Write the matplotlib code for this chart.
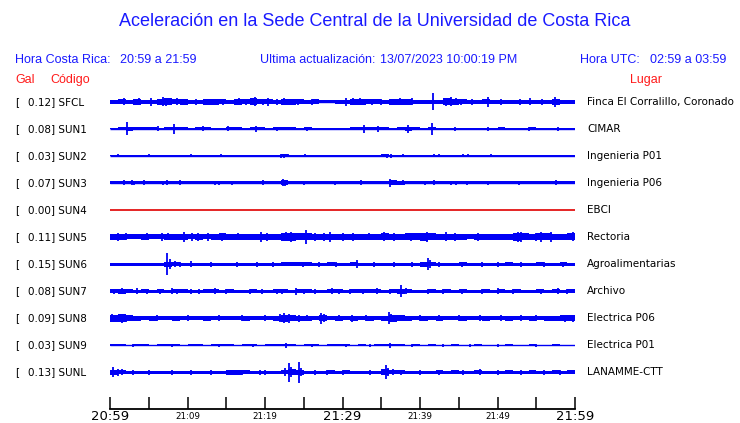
import matplotlib
matplotlib.use("Agg")
import matplotlib.pyplot as plt
import numpy as np

# ---------------- data ----------------
title = "Aceleración en la Sede Central de la Universidad de Costa Rica"
hora_cr = "20:59 a 21:59"
ultima = "13/07/2023 10:00:19 PM"
hora_utc = "02:59 a 03:59"

codes = ["SFCL", "SUN1", "SUN2", "SUN3", "SUN4", "SUN5", "SUN6", "SUN7", "SUN8", "SUN9", "SUNL"]
gal = [0.12, 0.08, 0.03, 0.07, 0.00, 0.11, 0.15, 0.08, 0.09, 0.03, 0.13]
places = ["Finca El Corralillo, Coronado", "CIMAR", "Ingenieria P01", "Ingenieria P06", "EBCI",
          "Rectoria", "Agroalimentarias", "Archivo", "Electrica P06", "Electrica P01", "LANAMME-CTT"]

tick_minutes = [0, 5, 10, 15, 20, 25, 30, 35, 40, 45, 50, 55, 60]
tick_labels = ["20:59", "", "21:09", "", "21:19", "", "21:29", "", "21:39", "", "21:49", "", "21:59"]
big_labels = ["20:59", "21:29", "21:59"]

# envelope half-height per minute (screen px units)
base_SFCL = [2, 2.5, 2, 3, 2, 2, 3, 3.5, 2.5, 3, 2, 2, 3, 3, 2.5, 2, 3, 2.5, 3.5, 2.5,
             2.5, 2, 3, 3, 2.5, 2, 2.5, 1.5, 1.5, 2, 2, 3, 3, 2.5, 2.5, 2, 3, 3, 3, 2,
             2, 2, 2, 3.5, 3, 2.5, 2, 2, 2.5, 2, 2, 2, 2, 2, 2, 2, 2, 3, 2, 2]
base_SUN1 = [0.5, 1.5, 2, 1.5, 1.5, 1.5, 1, 1.5, 1.5, 1.5, 1, 1.5, 1.5, 0.5, 1, 1.5, 1.5, 1, 1.5, 1.5,
             1, 1.5, 1.5, 1.5, 1, 1.5, 1, 1, 0.5, 1, 1, 1.5, 1.5, 1.5, 1.5, 1.5, 1, 1.5, 2, 1.5,
             1, 1.5, 1, 1, 1, 0.5, 1, 0.5, 1, 1, 1.5, 0.5, 1, 1, 1.5, 1, 0.5, 1, 0.5, 0.5]
base_SUN2 = [0.5] * 22 + [1.5] + [0.5] * 12 + [1.5, 1] + [0.5] * 23
base_SUN3 = [1.5] * 22 + [2.5] + [1.5] * 13 + [2.5, 2] + [1.5] * 22
base_SUN4 = [0] * 60
base_SUN5 = [3, 3, 2.5, 2.5, 3, 2.5, 2.5, 3, 3, 3, 2.5, 3, 2.5, 3, 3.5, 3, 3, 3, 3, 3,
             3, 3, 4, 4, 3.5, 3.5, 3, 3, 3, 3, 3, 3, 3, 3, 3, 3.5, 3, 3, 3.5, 3.5,
             4, 3.5, 3, 3, 3, 3, 2.5, 3, 3, 3, 3, 3, 4, 3.5, 3, 3.5, 3.5, 3, 3, 3.5]
base_SUN6 = [1.5, 1.5, 1.5, 1.5, 1.5, 1.5, 1.5, 2.5, 2, 1.5, 1.5, 1.5, 1.5, 1.5, 1.5, 1.5, 1.5, 1.5, 1.5, 1.5,
             1.5, 1.5, 2, 2, 2, 2, 1.5, 1.5, 2, 1.5, 1.5, 2, 1.5, 1.5, 1.5, 1.5, 1.5, 1.5, 1.5, 1.5,
             2.5, 2, 1.5, 1.5, 1.5, 2, 1.5, 1.5, 1.5, 1.5, 1.5, 2, 1.5, 1.5, 1.5, 2, 1.5, 1.5, 2, 1.5]
base_SUN7 = [2, 2.5, 2, 1.5, 2, 1.5, 2, 1.5, 2, 2, 1.5, 1.5, 2, 2, 1.5, 2, 1.5, 1.5, 2, 1.5,
             1.5, 2, 2, 1.5, 2, 2, 1.5, 1.5, 2, 2, 1.5, 2, 2, 2, 2, 1.5, 2, 2.5, 2, 1.5,
             1.5, 2, 1.5, 2, 1.5, 2, 1.5, 1.5, 2, 1.5, 2, 1.5, 2, 1.5, 1.5, 2, 1.5, 2, 1.5, 2]
base_SUN8 = [3.5, 4, 3, 2.5, 2, 2.5, 2, 2, 2.5, 2, 2, 2, 2.5, 2, 2, 2, 2, 2.5, 2, 2,
             2, 2.5, 3.5, 3, 2.5, 2.5, 2, 3, 2, 2.5, 2, 2.5, 2, 2.5, 2, 2.5, 3.5, 3, 2.5, 2,
             2.5, 2, 2.5, 2, 2, 2.5, 2, 2, 2.5, 2, 2, 2.5, 2, 2, 2.5, 2, 2.5, 2.5, 3, 3]
base_SUN9 = [1, 1, 0.5, 1, 1, 0.5, 1, 1, 1, 0.5, 1, 1, 0.5, 1, 1, 1, 0.5, 1, 1, 0.5,
             1, 1, 1, 1, 0.5, 1, 1, 0.5, 1, 1, 1, 0.5, 1, 0.5, 1, 1, 1, 1, 0.5, 1,
             0.5, 1, 0.5, 0.5, 1, 0.5, 0.5, 1, 0.5, 0.5, 0.5, 1, 0.5, 0.5, 1, 0.5, 0.5, 1, 0.5, 0.5]
base_SUNL = [2.5, 2, 1.5, 1.5, 1.5, 1.5, 1.5, 1.5, 1.5, 1.5, 1.5, 1.5, 1.5, 1.5, 1.5, 2.5, 2.5, 2, 1.5, 1.5,
             1.5, 1.5, 2, 3, 2.5, 1.5, 1.5, 1.5, 2, 1.5, 2, 1.5, 1.5, 1.5, 1.5, 3, 2, 2, 1.5, 1.5,
             1.5, 1.5, 2, 1.5, 2, 1.5, 1.5, 2, 1.5, 1.5, 1.5, 2, 1.5, 1.5, 2, 1.5, 1.5, 2, 1.5, 2]

# spikes: (minute, half-height in screen px)
spk_SFCL = [(1.8, 3.5), (3.8, 3.5), (5.3, 4), (6.9, 4.5), (7.2, 4), (8.7, 3.5), (9.4, 3), (11.1, 3),
            (12.8, 3), (13.6, 3), (14.6, 3), (16.7, 3.5), (17.5, 3), (18.7, 4.5), (19.7, 3), (20.4, 4),
            (21.6, 3), (22.5, 3.5), (23.8, 3), (24.2, 3), (26.1, 3), (30.4, 4), (31.3, 3.5), (32.2, 3.5),
            (33.8, 3), (35.0, 3), (36.5, 3), (37.4, 3.5), (38.3, 3), (39.0, 3.5), (41.7, 8.5), (43.4, 4),
            (44.0, 4.5), (44.6, 3.5), (45.3, 3), (46.7, 3), (48.8, 5), (50.4, 3), (52.9, 3), (54.2, 3.5),
            (55.7, 3), (57.4, 5)]
spk_SUN1 = [(2.2, 6.5), (6.2, 2.5), (8.3, 5), (12.0, 2.5), (15.2, 2.5), (18.8, 3), (21.5, 2),
            (25.4, 2), (32.8, 4), (34.6, 3), (38.5, 4), (41.5, 6), (44.5, 2), (48.8, 2), (54.0, 2), (57.8, 2)]
spk_SUN2 = [(1.0, 1.5), (3.0, 1), (4.2, 1), (5.0, 1.5), (5.6, 1), (6.2, 1), (7.5, 1), (9.0, 1), (10.4, 1.5),
            (12.0, 1), (13.7, 1), (14.3, 1.5), (16.0, 1), (17.2, 1), (18.5, 1), (20.0, 1), (22.0, 2),
            (22.5, 2), (23.0, 1.5), (24.6, 1), (25.2, 1.5), (27.0, 1), (30.8, 1), (33.0, 1), (35.2, 1),
            (35.8, 2), (36.3, 2), (37.8, 1.5), (38.4, 1), (41.3, 1), (41.8, 1.5), (42.5, 1.5), (44.0, 1),
            (45.0, 1), (45.5, 1.5), (46.2, 1.5), (47.8, 1), (49.2, 1.5), (52.0, 1), (57.0, 1), (59.0, 1)]
spk_SUN3 = [(1.8, 2.5), (2.8, 2.5), (3.1, 2), (4.4, 2.5), (6.9, 2), (7.3, 2.5), (9.0, 2.5), (13.5, 2),
            (14.1, 2), (15.7, 2), (19.8, 2.5), (22.3, 3.5), (22.6, 3), (25.0, 2), (29.0, 2), (32.4, 2.5),
            (36.1, 4), (37.8, 2.5), (40.7, 2), (41.8, 2.5), (44.0, 2), (44.6, 2), (46.1, 2), (48.8, 2),
            (52.8, 2), (57.6, 2.5)]
spk_SUN4 = []
spk_SUN5 = [(1.0, 4), (2.0, 3.5), (4.8, 3.5), (6.7, 4), (7.5, 3.5), (9.6, 5), (10.6, 4), (11.3, 4),
            (12.7, 4), (14.5, 4), (16.5, 3.5), (19.5, 5), (20.2, 4), (22.7, 4.5), (23.3, 5), (25.3, 7),
            (26.5, 4), (27.6, 4), (28.4, 5), (30.0, 4), (31.4, 4), (33.4, 3.5), (35.3, 4.5), (36.6, 4),
            (38.8, 4), (40.9, 5), (43.3, 4.5), (44.5, 4), (47.5, 4), (52.7, 5), (53.0, 5), (55.0, 4),
            (55.6, 5), (56.9, 5), (59.8, 4.5)]
spk_SUN6 = [(7.4, 11), (7.8, 5), (8.4, 3), (9.0, 2.5), (10.5, 3), (13.0, 2.5), (16.4, 2.5), (19.0, 2.5),
            (21.0, 2.5), (24.9, 2.5), (27.0, 2.5), (29.2, 2.5), (31.9, 4), (34.0, 2.5), (36.6, 2.5),
            (39.0, 2.5), (41.0, 6), (41.3, 4), (42.5, 2.5), (45.4, 2.5), (48.0, 2.5), (50.0, 2.5),
            (53.0, 2.5), (56.0, 2.5), (58.5, 2.5)]
spk_SUN7 = [(0.5, 2.5), (1.5, 3), (3.5, 3), (4.8, 2.5), (6.5, 2.5), (8.0, 3), (8.7, 2.5), (10.5, 2.5),
            (11.5, 2.5), (13.5, 3), (15.0, 2.5), (18.0, 2.5), (19.6, 2.5), (21.5, 2.5), (22.2, 2.5),
            (24.0, 3.5), (25.0, 2.5), (26.4, 2.5), (28.7, 3), (29.6, 2.5), (31.0, 2.5), (32.6, 2.5),
            (34.4, 3), (36.1, 2.5), (37.6, 6), (38.2, 3), (41.0, 2.5), (43.0, 2.5), (45.4, 2.5),
            (48.0, 2.5), (50.0, 3), (52.0, 2.5), (55.6, 2.5), (57.8, 3), (59.0, 2.5)]
spk_SUN8 = [(0.3, 4), (1.5, 4.5), (2.1, 3.5), (6.0, 3), (10.0, 3), (14.0, 3), (17.0, 3), (20.0, 3),
            (21.9, 4), (22.5, 5), (23.1, 4.5), (24.4, 3.5), (25.4, 3), (27.2, 5.5), (27.6, 4), (29.5, 3),
            (31.2, 3.5), (33.0, 3), (36.0, 6), (36.3, 4), (37.5, 3), (40.0, 3), (42.5, 3), (45.0, 3),
            (47.8, 3), (50.5, 3), (53.0, 3), (55.0, 3), (58.7, 3.5), (59.8, 3.5)]
spk_SUN9 = [(3.0, 1.5), (8.0, 1.5), (14.0, 1.5), (18.5, 1.5), (22.7, 2.5), (26.0, 1.5), (30.5, 1.5),
            (33.5, 1.5), (36.1, 2.5), (39.0, 1.5), (43.0, 1.5), (46.5, 1.5), (50.0, 1.5), (55.0, 1.5)]
spk_SUNL = [(0.4, 5), (1.0, 3.5), (1.5, 3), (3.0, 2.5), (5.0, 2.5), (8.0, 2.5), (10.5, 2.5), (13.0, 2.5),
            (15.5, 2.5), (17.0, 2.5), (19.3, 2.5), (20.0, 2.5), (22.6, 4), (23.1, 9.5), (23.4, 5),
            (24.4, 10.5), (24.7, 4), (26.5, 2.5), (28.0, 2.5), (30.0, 2.5), (33.5, 2.5), (35.6, 7),
            (35.9, 4), (36.5, 3), (37.5, 2.5), (40.0, 2.5), (42.5, 2.5), (45.5, 2.5), (47.7, 3),
            (50.0, 2.5), (53.0, 2.5), (56.0, 2.5), (58.0, 2.5)]

bases = [base_SFCL, base_SUN1, base_SUN2, base_SUN3, base_SUN4, base_SUN5,
         base_SUN6, base_SUN7, base_SUN8, base_SUN9, base_SUNL]
spikes = [spk_SFCL, spk_SUN1, spk_SUN2, spk_SUN3, spk_SUN4, spk_SUN5,
          spk_SUN6, spk_SUN7, spk_SUN8, spk_SUN9, spk_SUNL]

# ---------------- drawing ----------------
W, H = 740, 423
fig = plt.figure(figsize=(W / 100, H / 100), dpi=100)
fig.patch.set_facecolor("white")

BLUE = "#1a1aff"
TRACE = "#0000f5"
RED = "#ff1a1a"
HFONT = ["Liberation Sans", "DejaVu Sans"]
SFONT = ["DejaVu Sans"]


def ftext(x, y, s, **kw):
    fig.text(x / W, 1 - y / H, s, **kw)


ftext(375, 22, title, ha="center", va="center", fontsize=13, color=BLUE, family=HFONT)
ftext(15, 60, "Hora Costa Rica:", ha="left", va="center", fontsize=9, color=BLUE, family=HFONT)
ftext(120, 60, hora_cr, ha="left", va="center", fontsize=9, color=BLUE, family=HFONT)
ftext(260, 60, "Ultima actualización:", ha="left", va="center", fontsize=9, color=BLUE, family=HFONT)
ftext(380, 60, ultima, ha="left", va="center", fontsize=9, color=BLUE, family=HFONT)
ftext(580, 60, "Hora UTC:", ha="left", va="center", fontsize=9, color=BLUE, family=HFONT)
ftext(650, 60, hora_utc, ha="left", va="center", fontsize=9, color=BLUE, family=HFONT)
ftext(15, 80, "Gal", ha="left", va="center", fontsize=9, color=RED, family=HFONT)
ftext(50, 80, "Código", ha="left", va="center", fontsize=9, color=RED, family=HFONT)
ftext(630, 80, "Lugar", ha="left", va="center", fontsize=9, color=RED, family=HFONT)

top_px, bot_px, left_px, right_px = 88, 409, 110, 575
ax = fig.add_axes([left_px / W, 1 - bot_px / H, (right_px - left_px) / W, (bot_px - top_px) / H])
ax.set_xlim(0, 60)
ax.set_ylim(bot_px - top_px, 0)
for s in ["top", "left", "right"]:
    ax.spines[s].set_visible(False)
ax.spines["bottom"].set_linewidth(1.3)
ax.set_yticks([])
ax.set_xticks(tick_minutes)
ax.set_xticklabels(tick_labels)
ax.tick_params(axis="x", direction="in", length=9, width=1.1, pad=1, colors="black")
for lab in ax.get_xticklabels():
    if lab.get_text() in big_labels:
        lab.set_fontsize(9.5)
    else:
        lab.set_fontsize(6.3)
        lab.set_y(-0.004)
    lab.set_family("DejaVu Sans")

edges = np.arange(61)
row0, dy = 102 - top_px, 27
for i, code in enumerate(codes):
    yc = row0 + dy * i
    b = np.array(bases[i], dtype=float)
    if code == "SUN4":
        ax.hlines(yc, 0, 60, color="#e00000", lw=1.2)
    else:
        ax.stairs(yc + b, edges, baseline=yc - b, fill=True, color=TRACE, lw=0)
        ax.hlines(yc, 0, 60, color=TRACE, lw=1.0)
        if spikes[i]:
            t = np.array([p[0] for p in spikes[i]])
            a = np.array([p[1] for p in spikes[i]])
            ax.vlines(t, yc - a, yc + a, color=TRACE, lw=1.3)
    ypix = 102 + dy * i
    ftext(15, ypix, "[", ha="left", va="center", fontsize=7.5, color="black", family=SFONT)
    ftext(28, ypix, f"{gal[i]:.2f}] {code}", ha="left", va="center", fontsize=7.5, color="black", family=SFONT)
    ftext(587, ypix, places[i], ha="left", va="center", fontsize=7.5, color="black", family=SFONT)

fig.savefig("out.png", dpi=100)
